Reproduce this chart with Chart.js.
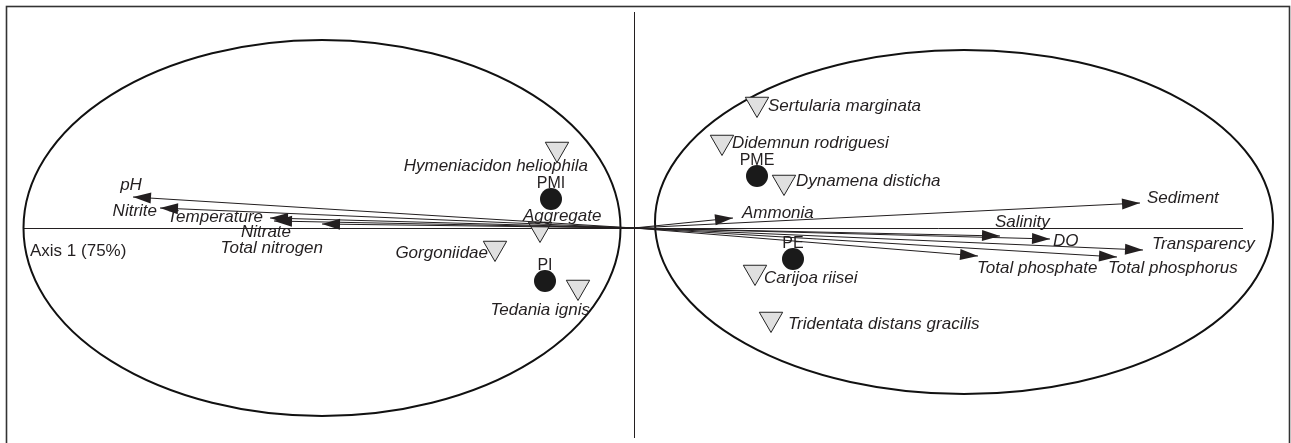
<!DOCTYPE html>
<html><head><meta charset="utf-8">
<script src="https://cdn.jsdelivr.net/npm/chart.js@4.4.1/dist/chart.umd.min.js"></script>
<style>html,body{margin:0;padding:0;background:#fff}#wrap{width:1291px;height:443px;position:relative}</style>
</head><body><div id="wrap"><canvas id="c"></canvas></div>
<script>
// ---------------- DATA (ordination scores) ----------------
const variableNames = ['pH','Nitrite','Temperature','Nitrate','Total nitrogen','Ammonia','Sediment','Salinity','DO','Transparency','Total phosphorus','Total phosphate'];
const variableX = [-5.01,-4.74,-3.64,-3.60,-3.12, 0.99, 5.06, 3.66, 4.16, 5.09, 4.83, 3.44];
const variableY = [ 0.31, 0.20, 0.10, 0.07, 0.04, 0.10, 0.25,-0.08,-0.11,-0.22,-0.29,-0.28];

const siteNames = ['PMI','PI','PME','PE'];
const siteX = [-0.83,-0.89, 1.23, 1.59];
const siteY = [ 0.29,-0.53, 0.52,-0.31];

const speciesNames = ['Hymeniacidon heliophila','Aggregate','Gorgoniidae','Tedania ignis','Sertularia marginata','Didemnun rodriguesi','Dynamena disticha','Carijoa riisei','Tridentata distans gracilis'];
const speciesX = [-0.77,-0.94,-1.39,-0.56, 1.23, 0.88, 1.50, 1.21, 1.37];
const speciesY = [ 0.79,-0.01,-0.20,-0.59, 1.24, 0.86, 0.46,-0.44,-0.91];

const axisTitle = 'Axis 1 (75%)';

// ---------------- LAYOUT / STYLE ----------------
const X_MIN = -6.34, X_MAX = 6.57, Y_MIN = -2.15, Y_MAX = 2.28;
const groupEllipses = [ {cx:-3.12, cy:0, rx:2.985, ry:1.88}, {cx:3.30, cy:0.06, rx:3.09, ry:1.72} ];
const axisLineH = {x1:-6.10, x2:6.09, y:0};
const axisLineV = {x:0, y1:2.16, y2:-2.10};
const axisTitlePos = {x:-6.04, y:-0.28};
// label offsets in px: [dx, dy(baseline), align]
const variableLabelLayout = [[-2,-7,'center'],[-3,8,'right'],[-7,4,'right'],[-8,16,'center'],[1,29,'right'],[9,0,'left'],[7,0,'left'],[-5,-9,'left'],[3,7,'left'],[9,-1,'left'],[-9,16,'left'],[-1,17,'left']];
const speciesLabelLayout = [[31,22,'right'],[-17,-8,'left'],[-7,10,'right'],[12,28,'right'],[11,7,'left'],[10,6,'left'],[12,4,'left'],[9,11,'left'],[17,10,'left']];
const siteLabelDy = -11;
const FONT = '"Liberation Sans", Arial, Helvetica, sans-serif';
const INK = '#231f20';

const arrowDatasets = variableNames.map((n,i)=>({
  type:'line', label:n, data:[{x:0,y:0},{x:variableX[i],y:variableY[i]}],
  borderColor:INK, borderWidth:1.2, pointRadius:0, fill:false, order:1, _arrow:true, _idx:i
}));

const plugin = {
  id:'ordination',
  beforeDatasetsDraw(chart){
    const ctx = chart.ctx, xs = chart.scales.x, ys = chart.scales.y;
    ctx.save();
    // frame
    ctx.strokeStyle = '#333'; ctx.lineWidth = 1.6;
    ctx.strokeRect(6.5, 6.5, 1283, 500);
    // axis lines
    ctx.strokeStyle = INK; ctx.lineWidth = 1;
    ctx.beginPath();
    ctx.moveTo(xs.getPixelForValue(axisLineH.x1), Math.round(ys.getPixelForValue(axisLineH.y))+0.5);
    ctx.lineTo(xs.getPixelForValue(axisLineH.x2), Math.round(ys.getPixelForValue(axisLineH.y))+0.5);
    ctx.moveTo(Math.round(xs.getPixelForValue(axisLineV.x))+0.5, ys.getPixelForValue(axisLineV.y1));
    ctx.lineTo(Math.round(xs.getPixelForValue(axisLineV.x))+0.5, ys.getPixelForValue(axisLineV.y2));
    ctx.stroke();
    // ellipses
    ctx.lineWidth = 2; ctx.strokeStyle = '#111';
    groupEllipses.forEach(e=>{
      const cx = xs.getPixelForValue(e.cx), cy = ys.getPixelForValue(e.cy);
      const rx = Math.abs(xs.getPixelForValue(e.cx+e.rx)-cx), ry = Math.abs(ys.getPixelForValue(e.cy+e.ry)-cy);
      ctx.beginPath(); ctx.ellipse(cx,cy,rx,ry,0,0,Math.PI*2); ctx.stroke();
    });
    // axis title
    ctx.fillStyle = INK; ctx.font = '17px '+FONT; ctx.textAlign='left'; ctx.textBaseline='alphabetic';
    ctx.fillText(axisTitle, xs.getPixelForValue(axisTitlePos.x), ys.getPixelForValue(axisTitlePos.y));
    ctx.restore();
  },
  afterDatasetsDraw(chart){
    const ctx = chart.ctx;
    ctx.save();
    ctx.fillStyle = INK; ctx.textBaseline = 'alphabetic';
    chart.data.datasets.forEach((ds,di)=>{
      const meta = chart.getDatasetMeta(di);
      if (ds._arrow){
        const p0 = meta.data[0], p1 = meta.data[1];
        const ang = Math.atan2(p1.y-p0.y, p1.x-p0.x);
        const L = 18, W = 5.5;
        ctx.beginPath();
        ctx.moveTo(p1.x, p1.y);
        ctx.lineTo(p1.x - L*Math.cos(ang) + W*Math.sin(ang), p1.y - L*Math.sin(ang) - W*Math.cos(ang));
        ctx.lineTo(p1.x - L*Math.cos(ang) - W*Math.sin(ang), p1.y - L*Math.sin(ang) + W*Math.cos(ang));
        ctx.closePath(); ctx.fill();
        const lay = variableLabelLayout[ds._idx];
        ctx.font = 'italic 17px '+FONT; ctx.textAlign = lay[2];
        ctx.fillText(variableNames[ds._idx], p1.x+lay[0], p1.y+lay[1]);
      } else if (ds._kind==='species'){
        ctx.font = 'italic 17px '+FONT;
        meta.data.forEach((pt,i)=>{
          const lay = speciesLabelLayout[i];
          ctx.textAlign = lay[2];
          ctx.fillText(speciesNames[i], pt.x+lay[0], pt.y+lay[1]);
        });
      } else if (ds._kind==='sites'){
        ctx.font = '16px '+FONT; ctx.textAlign='center';
        meta.data.forEach((pt,i)=>{ ctx.fillText(siteNames[i], pt.x, pt.y+siteLabelDy); });
      }
    });
    ctx.restore();
  }
};

new Chart(document.getElementById('c'), {
  type:'scatter',
  data:{ datasets:[
    {label:'Sites', _kind:'sites', data:siteX.map((x,i)=>({x, y:siteY[i]})), pointStyle:'circle', pointRadius:11, pointHoverRadius:11, backgroundColor:'#1a1a1a', borderColor:'#1a1a1a', borderWidth:0, order:0},
    ...arrowDatasets,
    {label:'Species', _kind:'species', data:speciesX.map((x,i)=>({x, y:speciesY[i]})), pointStyle:'triangle', rotation:180, pointRadius:13.5, pointHoverRadius:13.5, backgroundColor:'#e0e0e0', borderColor:'#222', borderWidth:1, order:2}
  ]},
  options:{
    responsive:true, maintainAspectRatio:false, animation:false,
    layout:{padding:0, autoPadding:false},
    plugins:{legend:{display:false}, tooltip:{enabled:false}},
    events:[],
    scales:{
      x:{type:'linear', display:false, min:X_MIN, max:X_MAX},
      y:{type:'linear', display:false, min:Y_MIN, max:Y_MAX}
    }
  },
  plugins:[plugin]
});
</script></body></html>
